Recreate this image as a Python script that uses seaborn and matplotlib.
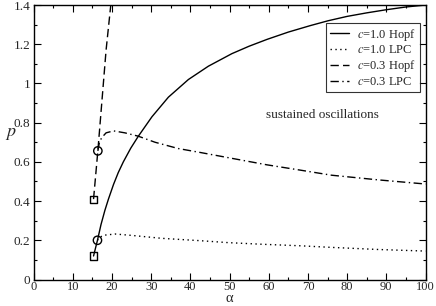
import matplotlib
matplotlib.use("Agg")
import matplotlib.pyplot as plt
import seaborn as sns
import pandas as pd
from matplotlib.ticker import MultipleLocator

# curvas
hopf_c10_alpha = [15.3, 16.3, 17.2, 18.2, 19.1, 20.4, 21.6, 22.9, 24.8, 26.7, 30.2, 34.4, 39.5,
                  44.6, 50.6, 55.0, 59.6, 65.0, 70.6, 75.2, 80.0, 85.0, 90.0, 95.0, 100.0]
hopf_c10_p = [0.12, 0.20, 0.28, 0.353, 0.41, 0.485, 0.545, 0.60, 0.67, 0.73, 0.83, 0.93, 1.02,
              1.088, 1.152, 1.19, 1.225, 1.262, 1.295, 1.32, 1.342, 1.36, 1.376, 1.39, 1.40]

lpc_c10_alpha = [16.3, 16.8, 18.0, 20.8, 25.0, 32.7, 42.5, 49.7, 58.0, 68.0, 75.8, 88.0, 100.0]
lpc_c10_p = [0.20, 0.215, 0.226, 0.232, 0.225, 0.21, 0.198, 0.188, 0.18, 0.172, 0.164, 0.153, 0.145]

hopf_c03_alpha = [15.3, 16.4, 18.5, 19.7, 19.9]
hopf_c03_p = [0.41, 0.656, 1.17, 1.40, 1.44]

lpc_c03_alpha = [16.4, 16.8, 17.4, 18.5, 20.4, 23.3, 26.7, 31.0, 36.9, 42.5, 51.4, 59.5,
                 68.0, 76.0, 88.0, 100.0]
lpc_c03_p = [0.656, 0.70, 0.724, 0.748, 0.758, 0.748, 0.731, 0.70, 0.668, 0.648, 0.615, 0.585,
             0.558, 0.532, 0.508, 0.487]

square_alpha = [15.3, 15.3]
square_p = [0.12, 0.41]
circle_alpha = [16.3, 16.4]
circle_p = [0.20, 0.656]

labels = [r"$c$=1.0 Hopf", r"$c$=1.0 LPC", r"$c$=0.3 Hopf", r"$c$=0.3 LPC"]

sns.set_theme(style="ticks")
plt.rcParams['font.family'] = ['Liberation Serif', 'DejaVu Serif']
plt.rcParams['mathtext.fontset'] = 'stix'

fig = plt.figure(figsize=(4.36, 3.06), dpi=100)
ax = fig.add_axes([0.077, 0.0866, 0.899, 0.897])

series = [
    (hopf_c10_alpha, hopf_c10_p, '-'),
    (lpc_c10_alpha, lpc_c10_p, (0, (1, 2.5))),
    (hopf_c03_alpha, hopf_c03_p, (0, (6, 3))),
    (lpc_c03_alpha, lpc_c03_p, (0, (6, 2.5, 1, 2.5))),
]
for (a, p, ls), lab in zip(series, labels):
    df = pd.DataFrame({'alpha': a, 'p': p})
    sns.lineplot(data=df, x='alpha', y='p', ax=ax, color='black', lw=1,
                 linestyle=ls, sort=False, label=lab)

sns.scatterplot(x=square_alpha, y=square_p, ax=ax, marker='s', s=26,
                facecolor='none', edgecolor='black', linewidth=1, zorder=5)
sns.scatterplot(x=circle_alpha, y=circle_p, ax=ax, marker='o', s=36,
                facecolor='none', edgecolor='black', linewidth=1, zorder=5)

ax.set_xlim(0, 100)
ax.set_ylim(0, 1.4)
ax.xaxis.set_major_locator(MultipleLocator(10))
ax.xaxis.set_minor_locator(MultipleLocator(5))
ax.yaxis.set_major_locator(MultipleLocator(0.2))
ax.yaxis.set_minor_locator(MultipleLocator(0.1))
ax.yaxis.set_major_formatter(plt.FuncFormatter(lambda v, _: f"{v:g}"))
ax.tick_params(which='both', direction='in', top=True, right=True,
               labelsize=9.5, color='black', width=0.8, pad=2.5)
ax.tick_params(axis='x', pad=1, labelsize=9)
ax.tick_params(which='major', length=5)
ax.tick_params(which='minor', length=2.5)
for s in ax.spines.values():
    s.set_linewidth(1)
    s.set_color('black')

ax.set_xlabel("")
ax.set_ylabel(r"$p$", fontsize=13, rotation=0, labelpad=2)
# rotulo do eixo x colado na borda de baixo
fig.text(0.525, 0.003, "α", fontsize=10.5, ha='center', va='bottom')

ax.text(73.8, 0.84, "sustained oscillations", fontsize=9.5, ha='center', va='center')

leg = ax.legend(loc='upper right', bbox_to_anchor=(0.985, 0.935), fontsize=9,
                frameon=True, fancybox=False, handlelength=1.5, handletextpad=0.65,
                borderpad=0.3, labelspacing=0.15, borderaxespad=0)
leg.get_frame().set_edgecolor('black')
leg.get_frame().set_linewidth(0.8)

fig.savefig("out.png", dpi=100)
